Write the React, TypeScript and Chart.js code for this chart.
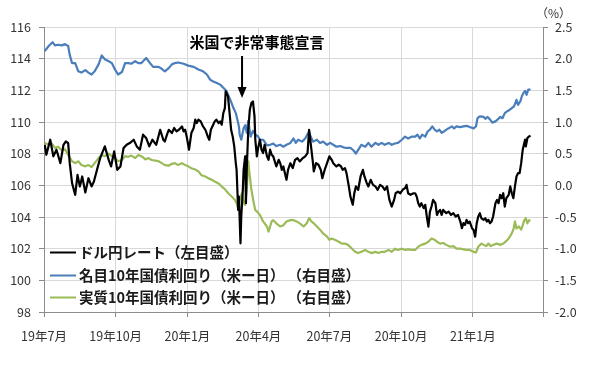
import React, { useEffect, useRef } from "react";
import { Chart, registerables } from "chart.js";

Chart.register(...registerables);

// Day offsets are counted from 2019-07-01 (day 0).
const quarterDays = [0, 92, 184, 275, 366, 458, 550, 640];
const quarterLabels = ["19年7月", "19年10月", "20年1月", "20年4月", "20年7月", "20年10月", "21年1月", ""];
const emergencyDay = 254; // 米国で非常事態宣言
const annotationText = "米国で非常事態宣言";
const unitLabel = "（%）";

const seriesLabels = [
  "ドル円レート（左目盛）",
  "名目10年国債利回り（米ー日）\u2009（右目盛）",
  "実質10年国債利回り（米ー日）\u2009（右目盛）",
];

// [day offset, USD/JPY]
const usdJpy: [number, number][] = [
  [1, 108.56], [3, 107.93], [8, 108.88], [12, 107.83], [16, 108.25], [21, 107.4], [25, 108.56], [28, 108.77],
  [31, 108.67], [33, 107.4], [36, 106.14], [40, 105.4], [43, 106.66], [46, 105.93], [49, 106.56], [53, 105.55],
  [57, 106.45], [61, 105.93], [64, 106.24], [68, 106.98], [72, 107.72], [78, 108.46], [83, 107.61], [86, 107.19],
  [90, 108.14], [94, 106.98], [98, 107.19], [102, 108.35], [106, 108.56], [110, 108.67], [115, 108.88], [119, 108.46],
  [123, 108.25], [127, 109.2], [131, 108.99], [135, 108.46], [139, 108.88], [144, 108.56], [149, 109.51], [153, 108.88],
  [155, 108.77], [157, 109.09], [160, 109.51], [164, 109.3], [167, 109.62], [170, 109.41], [173, 109.51], [177, 109.72],
  [179, 109.41], [181, 109.51], [183, 109.09], [186, 108.25], [189, 109.3], [192, 109.62], [194, 110.15], [196, 109.93],
  [198, 110.15], [201, 110.04], [204, 109.72], [207, 109.51], [210, 109.09], [212, 108.88], [214, 109.51], [217, 109.83],
  [219, 110.04], [221, 110.15], [224, 109.93], [226, 110.04], [228, 109.83], [230, 110.57], [232, 110.88], [233, 111.94],
  [236, 111.62], [238, 110.57], [240, 109.51], [242, 109.09], [244, 108.46], [246, 107.4], [247, 106.98], [249, 104.45],
  [250, 105.29], [252, 102.34], [253, 104.03], [255, 105.72], [256, 106.98], [258, 107.83], [259, 104.87], [260, 106.98],
  [262, 109.51], [264, 110.78], [266, 111.2], [268, 111.3], [270, 110.35], [271, 108.88], [273, 107.83], [275, 108.46],
  [277, 108.88], [279, 108.25], [281, 108.04], [283, 108.56], [286, 107.83], [288, 107.61], [290, 108.25], [292, 107.93],
  [294, 107.83], [296, 107.51], [298, 107.19], [301, 107.61], [303, 107.4], [305, 106.98], [307, 107.19], [309, 106.77],
  [311, 106.35], [313, 106.98], [316, 107.4], [319, 107.09], [322, 107.61], [325, 107.72], [328, 107.51], [332, 107.72],
  [335, 107.83], [338, 108.04], [340, 109.51], [342, 108.67], [345, 107.4], [346, 106.88], [349, 107.4], [352, 107.3],
  [355, 106.98], [357, 106.45], [360, 106.98], [363, 107.4], [366, 107.83], [369, 107.61], [371, 107.4], [375, 107.19],
  [378, 107.3], [381, 107.19], [383, 106.98], [386, 107.09], [388, 106.77], [391, 105.93], [393, 105.29], [396, 104.77],
  [398, 105.5], [400, 105.93], [403, 105.72], [406, 106.56], [409, 106.98], [411, 106.56], [414, 106.14], [416, 105.93],
  [419, 106.35], [422, 106.03], [425, 105.93], [428, 105.72], [431, 106.03], [434, 105.93], [437, 105.72], [440, 105.93],
  [443, 105.08], [446, 104.66], [449, 105.08], [451, 105.5], [454, 105.61], [457, 105.5], [460, 105.72], [463, 105.82],
  [465, 106.03], [467, 105.5], [470, 105.4], [474, 105.5], [476, 105.5], [478, 105.29], [480, 104.87], [482, 104.66],
  [484, 104.87], [487, 104.56], [489, 104.77], [491, 104.03], [493, 103.39], [495, 104.34], [497, 104.66], [499, 105.08],
  [502, 104.87], [504, 104.13], [506, 104.34], [508, 104.45], [510, 104.13], [512, 104.45], [514, 104.34], [516, 104.24],
  [519, 104.34], [522, 104.13], [525, 104.24], [528, 104.03], [531, 104.13], [534, 103.71], [536, 103.29], [538, 103.61],
  [540, 103.5], [542, 103.82], [544, 103.61], [546, 103.71], [549, 103.29], [551, 103.18], [553, 102.76], [555, 103.61],
  [557, 104.03], [559, 104.24], [561, 103.92], [564, 103.82], [566, 103.92], [568, 103.71], [570, 103.82], [572, 103.61],
  [574, 103.71], [576, 104.03], [579, 104.87], [581, 105.08], [583, 104.87], [585, 105.4], [587, 105.19], [589, 105.5],
  [591, 104.66], [593, 105.19], [596, 105.4], [598, 105.93], [600, 105.5], [602, 105.19], [604, 105.93], [606, 106.56],
  [608, 106.77], [610, 106.77], [612, 107.4], [614, 108.25], [616, 108.67], [617, 108.88], [618, 108.46], [620, 108.99],
  [622, 109.09], [624, 109.13],
];

// [day offset, nominal 10y yield spread US-JP (%)]
const nominalSpread: [number, number][] = [
  [1, 2.12], [6, 2.2], [11, 2.26], [14, 2.21], [18, 2.22], [23, 2.21], [27, 2.23], [31, 2.2], [33, 2.06], [36, 1.93],
  [40, 1.93], [44, 1.8], [48, 1.78], [53, 1.82], [57, 1.78], [61, 1.75], [65, 1.8], [70, 1.91], [74, 2.05], [78, 1.99],
  [83, 1.96], [87, 1.93], [91, 1.83], [95, 1.75], [100, 1.79], [104, 1.93], [108, 1.93], [112, 1.92], [117, 1.96], [121, 1.93],
  [125, 1.93], [131, 2.01], [136, 1.93], [140, 1.87], [147, 1.87], [151, 1.84], [155, 1.8], [160, 1.85], [164, 1.91], [168, 1.93],
  [172, 1.94], [179, 1.92], [185, 1.89], [192, 1.87], [198, 1.83], [204, 1.8], [209, 1.75], [213, 1.67], [217, 1.64], [221, 1.62],
  [226, 1.59], [230, 1.54], [234, 1.49], [239, 1.35], [243, 1.22], [246, 1.14], [248, 1.04], [250, 0.93], [251, 0.8], [253, 0.72],
  [256, 0.9], [258, 0.95], [260, 0.83], [262, 1.02], [265, 0.77], [268, 0.86], [271, 0.8], [274, 0.78], [277, 0.72], [281, 0.72],
  [286, 0.63], [290, 0.64], [294, 0.66], [298, 0.62], [303, 0.64], [307, 0.61], [311, 0.64], [316, 0.67], [320, 0.74], [323, 0.67],
  [326, 0.72], [331, 0.69], [335, 0.74], [339, 0.83], [340, 0.85], [342, 0.77], [345, 0.69], [350, 0.72], [354, 0.67], [358, 0.69],
  [363, 0.64], [367, 0.67], [371, 0.64], [375, 0.61], [380, 0.62], [384, 0.6], [388, 0.59], [393, 0.59], [397, 0.55], [400, 0.5],
  [403, 0.56], [407, 0.64], [412, 0.61], [416, 0.67], [420, 0.61], [425, 0.67], [429, 0.64], [433, 0.67], [437, 0.64], [442, 0.67],
  [446, 0.64], [450, 0.66], [454, 0.67], [459, 0.72], [463, 0.77], [467, 0.74], [472, 0.77], [476, 0.77], [479, 0.8], [482, 0.74],
  [485, 0.8], [489, 0.77], [492, 0.85], [495, 0.88], [498, 0.93], [501, 0.88], [504, 0.85], [507, 0.88], [510, 0.83], [513, 0.85],
  [516, 0.88], [519, 0.9], [523, 0.93], [526, 0.9], [529, 0.93], [534, 0.92], [538, 0.93], [542, 0.94], [546, 0.92], [551, 0.9],
  [554, 0.93], [556, 1.06], [559, 1.09], [564, 1.08], [566, 1.05], [569, 1.08], [572, 1.04], [575, 0.99], [579, 1.01], [582, 1.04],
  [585, 1.08], [588, 1.06], [591, 1.14], [594, 1.17], [597, 1.19], [600, 1.22], [603, 1.25], [606, 1.35], [608, 1.27], [611, 1.33],
  [613, 1.41], [615, 1.46], [617, 1.49], [619, 1.43], [621, 1.51], [624, 1.51],
];

// [day offset, real 10y yield spread US-JP (%)]
const realSpread: [number, number][] = [
  [1, 0.67], [6, 0.64], [10, 0.66], [14, 0.59], [18, 0.61], [23, 0.55], [27, 0.57], [31, 0.48], [36, 0.38], [40, 0.35],
  [44, 0.38], [48, 0.32], [53, 0.3], [57, 0.32], [61, 0.29], [65, 0.35], [70, 0.43], [74, 0.48], [78, 0.46], [83, 0.5],
  [87, 0.46], [91, 0.43], [95, 0.38], [100, 0.4], [104, 0.46], [108, 0.45], [112, 0.47], [117, 0.43], [121, 0.48], [125, 0.46],
  [130, 0.41], [134, 0.43], [138, 0.4], [143, 0.39], [147, 0.38], [151, 0.35], [155, 0.32], [160, 0.31], [164, 0.34], [168, 0.35],
  [172, 0.32], [177, 0.35], [181, 0.32], [185, 0.3], [189, 0.27], [194, 0.25], [198, 0.22], [202, 0.16], [207, 0.14], [211, 0.11],
  [215, 0.09], [219, 0.06], [224, 0.03], [228, -0.02], [232, -0.06], [236, -0.12], [241, -0.18], [245, -0.23], [247, -0.28], [249, -0.36],
  [251, -0.23], [254, -0.12], [256, -0.28], [258, -0.31], [260, -0.07], [262, 0.38], [264, 0.14], [266, -0.07], [269, -0.28], [271, -0.39],
  [273, -0.41], [277, -0.47], [281, -0.57], [286, -0.65], [288, -0.73], [290, -0.65], [292, -0.57], [294, -0.55], [298, -0.6], [303, -0.65],
  [307, -0.63], [311, -0.57], [316, -0.55], [320, -0.55], [324, -0.57], [328, -0.6], [333, -0.65], [337, -0.6], [340, -0.52], [343, -0.57],
  [346, -0.6], [350, -0.65], [354, -0.7], [358, -0.76], [363, -0.81], [366, -0.86], [369, -0.84], [373, -0.86], [378, -0.89], [382, -0.92],
  [386, -0.92], [390, -0.94], [395, -1.0], [399, -1.05], [403, -1.07], [407, -1.05], [412, -1.02], [416, -1.05], [420, -1.07], [425, -1.05],
  [429, -1.07], [433, -1.05], [437, -1.05], [442, -1.02], [446, -1.05], [450, -1.0], [454, -1.02], [459, -1.0], [463, -1.02], [467, -1.01],
  [472, -1.02], [476, -1.02], [480, -0.97], [484, -0.94], [489, -0.92], [493, -0.89], [497, -0.84], [501, -0.86], [504, -0.89], [508, -0.92],
  [512, -0.91], [516, -0.94], [521, -0.97], [525, -0.96], [529, -1.0], [534, -1.0], [538, -1.01], [542, -1.02], [546, -1.02], [551, -1.05],
  [554, -1.06], [557, -0.97], [561, -0.92], [564, -0.94], [567, -0.96], [570, -0.92], [573, -0.96], [576, -0.94], [581, -0.92], [585, -0.94],
  [589, -0.92], [592, -0.89], [596, -0.84], [599, -0.78], [602, -0.7], [604, -0.57], [606, -0.68], [609, -0.65], [612, -0.7], [614, -0.63],
  [616, -0.55], [618, -0.52], [620, -0.6], [622, -0.55], [624, -0.56],
];

const FONT = "'Noto Sans CJK JP', 'Noto Sans', sans-serif";
const COLORS = ["#000000", "#4a7ebb", "#9bbb59"];

const toPoints = (rows: [number, number][]) => rows.map(([x, y]) => ({ x, y }));

const overlayPlugin = {
  id: "overlay",
  afterDraw(chart: any) {
    const { ctx, scales } = chart;
    ctx.save();
    // unit label
    ctx.fillStyle = "#333";
    ctx.font = `12px ${FONT}`;
    ctx.textAlign = "left";
    ctx.textBaseline = "middle";
    ctx.fillText(unitLabel, 536, 13);

    // annotation
    const ax = scales.x.getPixelForValue(emergencyDay);
    ctx.fillStyle = "#000";
    ctx.font = `bold 15px ${FONT}`;
    ctx.textAlign = "center";
    ctx.fillText(annotationText, ax + 15, 42);
    ctx.strokeStyle = "#000";
    ctx.lineWidth = 2;
    ctx.beginPath();
    ctx.moveTo(ax, 56);
    ctx.lineTo(ax, 88);
    ctx.stroke();
    ctx.beginPath();
    ctx.moveTo(ax - 4.5, 87);
    ctx.lineTo(ax + 4.5, 87);
    ctx.lineTo(ax, 98);
    ctx.closePath();
    ctx.fill();

    // legend
    const rows = [252.5, 275.5, 297.5];
    chart.data.datasets.forEach((ds: any, i: number) => {
      const y = rows[i];
      ctx.strokeStyle = ds.borderColor;
      ctx.lineWidth = 2;
      ctx.beginPath();
      ctx.moveTo(50, y);
      ctx.lineTo(76, y);
      ctx.stroke();
      ctx.fillStyle = "#1a1a1a";
      ctx.font = `bold 14.5px ${FONT}`;
      ctx.textAlign = "left";
      ctx.textBaseline = "middle";
      ctx.fillText(ds.label, 79, y);
    });
    ctx.restore();
  },
};

export default function App() {
  const ref = useRef<HTMLCanvasElement>(null);
  useEffect(() => {
    const canvas = ref.current;
    if (!canvas) return;
    const chart = new Chart(canvas, {
      type: "line",
      data: {
        datasets: [
          { label: seriesLabels[0], data: toPoints(usdJpy), yAxisID: "yL", borderColor: COLORS[0], borderWidth: 2.2 },
          { label: seriesLabels[1], data: toPoints(nominalSpread), yAxisID: "yR", borderColor: COLORS[1], borderWidth: 2.2 },
          { label: seriesLabels[2], data: toPoints(realSpread), yAxisID: "yR", borderColor: COLORS[2], borderWidth: 2.2 },
        ],
      },
      options: {
        animation: false,
        responsive: false,
        devicePixelRatio: 1,
        parsing: false as any,
        elements: { point: { radius: 0 }, line: { tension: 0, borderJoinStyle: "round" } },
        layout: { padding: { top: 27, left: 0, right: 0, bottom: 0 } },
        plugins: { legend: { display: false }, tooltip: { enabled: false } },
        scales: {
          x: {
            type: "linear",
            min: quarterDays[0],
            max: quarterDays[quarterDays.length - 1],
            afterBuildTicks: (scale: any) => {
              scale.ticks = quarterDays.map((v) => ({ value: v }));
            },
            afterFit: (scale: any) => {
              scale.height = 57;
            },
            ticks: {
              autoSkip: false,
              maxRotation: 0,
              color: "#333",
              padding: 12,
              font: { family: FONT, size: 12.5 },
              callback: (_v: any, i: number) => quarterLabels[i] ?? "",
            },
            grid: { color: "#d9d9d9", tickLength: 5, tickColor: "#8c8c8c" },
            border: { color: "#8c8c8c" },
          },
          yL: {
            type: "linear",
            position: "left",
            min: 98,
            max: 116,
            afterFit: (scale: any) => {
              scale.width = 44;
            },
            ticks: { stepSize: 2, color: "#333", padding: 8, font: { family: FONT, size: 12.5 } },
            grid: { color: "#d9d9d9", tickLength: 5, tickColor: "#8c8c8c" },
            border: { color: "#8c8c8c" },
          },
          yR: {
            type: "linear",
            position: "right",
            min: -2,
            max: 2.5,
            afterFit: (scale: any) => {
              scale.width = 57;
            },
            ticks: {
              stepSize: 0.5,
              color: "#333",
              padding: 7,
              font: { family: FONT, size: 12.5 },
              callback: (v: any) => Number(v).toFixed(1),
            },
            grid: { drawOnChartArea: false, tickLength: 5, tickColor: "#8c8c8c" },
            border: { color: "#8c8c8c" },
          },
        },
      },
      plugins: [overlayPlugin],
    });
    return () => chart.destroy();
  }, []);
  return (
    <div style={{ position: "fixed", left: 0, top: 0, width: 600, height: 369, background: "#fff" }}>
      <canvas ref={ref} width={600} height={369} style={{ display: "block", width: 600, height: 369 }} />
    </div>
  );
}
